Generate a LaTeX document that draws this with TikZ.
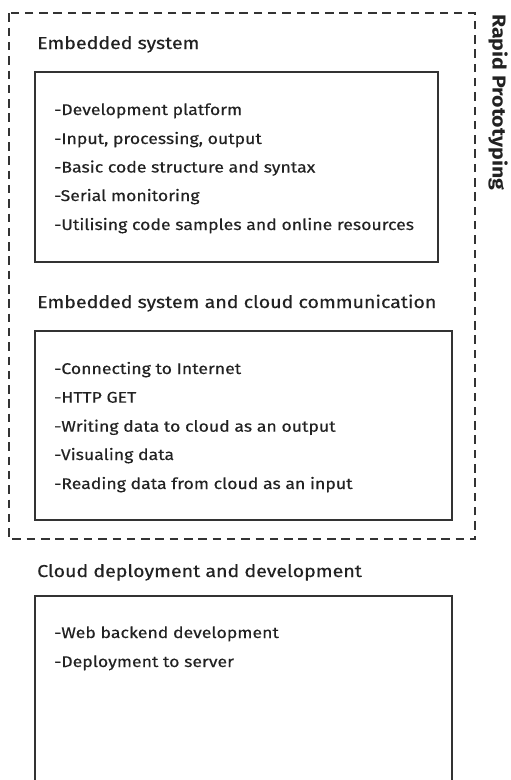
\documentclass[tikz,border=0pt]{standalone}
\usepackage{fontspec}
\setmainfont{Fira Sans}[FakeStretch=1.14,FakeBold=0.4]
\newfontfamily\sidefont{Fira Sans}[FakeStretch=1.14]
\definecolor{ink}{HTML}{222222}
\definecolor{linec}{HTML}{333333}
\begin{document}
\begin{tikzpicture}[x=1pt,y=-1pt,
  box/.style={draw=linec, line width=2pt},
  frame/.style={draw=linec, line width=1.8pt, dash pattern=on 8.5pt off 5.8pt},
  head/.style={anchor=base west, inner sep=0pt, text=ink, font=\fontsize{17.2}{20}\selectfont},
  item/.style={anchor=base west, inner sep=0pt, text=ink, font=\fontsize{15.5}{18}\selectfont},
  side/.style={anchor=base west, inner sep=0pt, text=ink, rotate=-90, font=\sidefont\fontsize{18.7}{21}\selectfont\bfseries}]
\useasboundingbox (0,0) rectangle (511,780);
\clip (0,0) rectangle (511,780);
% outer dashed frame
\draw[frame] (9,13.3) rectangle (475,539);
\node[side] (rp) at (492.5,14) {Rapid Prototyping};
% section 1
\node[head] (h1) at (37,49) {Embedded system};
\draw[box] (35,72) rectangle (438,262);
\node[item] (a1) at (54,115) {-Development platform};
\node[item] (a2) at (54,144) {-Input, processing, output};
\node[item] (a3) at (54,172.5) {-Basic code structure and syntax};
\node[item] (a4) at (54,201) {-Serial monitoring};
\node[item] (a5) at (54,230) {-Utilising code samples and online resources};
% section 2
\node[head] (h2) at (37,308) {Embedded system and cloud communication};
\draw[box] (35,331) rectangle (452,520);
\node[item] (b1) at (54,374) {-Connecting to Internet};
\node[item] (b2) at (54,402.7) {-HTTP GET};
\node[item] (b3) at (54,431.7) {-Writing data to cloud as an output};
\node[item] (b4) at (54,460) {-Visualing data};
\node[item] (b5) at (54,489) {-Reading data from cloud as an input};
% section 3
\node[head] (h3) at (37,577) {Cloud deployment and development};
\draw[box] (35,596) rectangle (452,800);
\node[item] (c1) at (54,638) {-Web backend development};
\node[item] (c2) at (54,667) {-Deployment to server};
\end{tikzpicture}
\end{document}
